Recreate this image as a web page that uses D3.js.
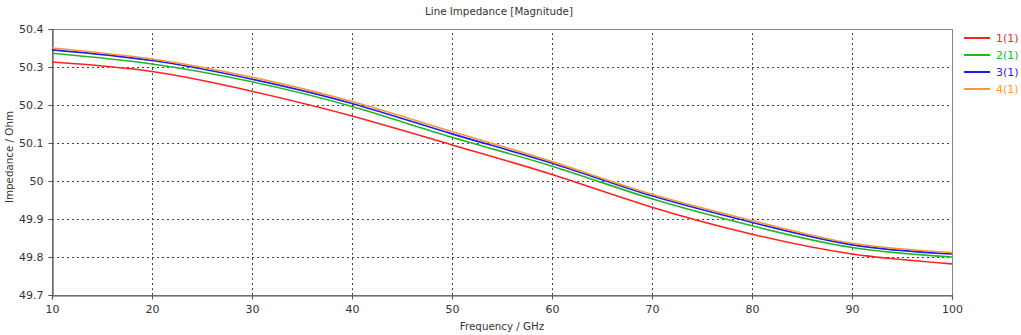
<!DOCTYPE html>
<html>
<head>
<meta charset="utf-8">
<script src="https://cdn.jsdelivr.net/npm/d3@7/dist/d3.min.js"></script>
<style>
  body { margin: 0; background: #fff; }
  text { font-family: "DejaVu Sans", Verdana, sans-serif; }
</style>
</head>
<body>
<div class="d3"></div>
<script>
// values
const freq = [10, 20, 30, 40, 50, 60, 70, 80, 90, 100];
const s1 = [50.313, 50.288, 50.236, 50.171, 50.095, 50.017, 49.931, 49.860, 49.808, 49.782];
const s2 = [50.336, 50.308, 50.261, 50.196, 50.115, 50.039, 49.953, 49.882, 49.825, 49.800];
const s3 = [50.345, 50.317, 50.268, 50.204, 50.124, 50.047, 49.961, 49.891, 49.832, 49.808];
const s4 = [50.350, 50.321, 50.273, 50.209, 50.130, 50.051, 49.965, 49.896, 49.836, 49.812];
const seriesNames = ["1(1)", "2(1)", "3(1)", "4(1)"];
const seriesColors = ["#ff2020", "#20b820", "#1c1cff", "#ff9433"];
const xTicks = [10, 20, 30, 40, 50, 60, 70, 80, 90, 100];
const yTicks = [49.7, 49.8, 49.9, 50, 50.1, 50.2, 50.3, 50.4];

function main() {
    const width = 1021, height = 335;
    const m = {left: 52, right: 69, top: 29, bottom: 40};
    const svg = d3.select(".d3").append("svg")
        .attr("width", width)
        .attr("height", height);

    const x = d3.scaleLinear().domain([10, 100]).range([m.left, width - m.right]);
    const y = d3.scaleLinear().domain([49.7, 50.4]).range([height - m.bottom, m.top]);

    // grid
    const grid = svg.append("g");
    grid.selectAll(".vg").data(xTicks.slice(1, -1)).enter().append("line")
        .attr("x1", d => Math.round(x(d)) + 0.5).attr("x2", d => Math.round(x(d)) + 0.5)
        .attr("y1", y(49.7)).attr("y2", y(50.4))
        .attr("stroke", "#444").attr("stroke-dasharray", "2,3");
    grid.selectAll(".hg").data(yTicks.slice(1, -1)).enter().append("line")
        .attr("y1", d => Math.round(y(d)) + 0.5).attr("y2", d => Math.round(y(d)) + 0.5)
        .attr("x1", x(10)).attr("x2", x(100))
        .attr("stroke", "#444").attr("stroke-dasharray", "2,3");

    // frame
    svg.append("rect")
        .attr("x", x(10) + 0.5).attr("y", y(50.4) + 0.5)
        .attr("width", x(100) - x(10)).attr("height", y(49.7) - y(50.4))
        .attr("fill", "none").attr("stroke", "#888");

    // axes
    const xAxis = svg.append("g")
        .attr("transform", "translate(0," + (y(49.7) + 0.5) + ")")
        .call(d3.axisBottom(x).tickValues(xTicks).tickSize(4).tickPadding(6).tickFormat(d3.format("d")));
    const yAxis = svg.append("g")
        .attr("transform", "translate(" + (x(10) + 0.5) + ",0)")
        .call(d3.axisLeft(y).tickValues(yTicks).tickSize(4).tickPadding(5).tickFormat(d => d3.format(".1f")(d).replace(/\.0$/, "")));
    [xAxis, yAxis].forEach(a => {
        a.select(".domain").attr("stroke", "#555").attr("stroke-width", 1.2);
        a.selectAll(".tick line").attr("stroke", "#555");
        a.selectAll(".tick text").attr("fill", "#333").style("font-size", "11px")
            .style("font-family", "'DejaVu Sans', Verdana, sans-serif");
    });

    // lines
    const allSeries = [s1, s2, s3, s4];
    const line = d3.line()
        .x((d, i) => x(freq[i]))
        .y(d => y(d))
        .curve(d3.curveNatural);
    svg.selectAll(".series").data(allSeries).enter().append("path")
        .attr("fill", "none")
        .attr("stroke", (d, i) => seriesColors[i])
        .attr("stroke-width", 1.6)
        .attr("d", line);

    // legend
    const lg = svg.selectAll(".lg").data(seriesNames).enter().append("g")
        .attr("transform", (d, i) => "translate(964," + (38 + i * 17) + ")");
    lg.append("line").attr("x1", 0).attr("x2", 26)
        .attr("stroke", (d, i) => seriesColors[i]).attr("stroke-width", 2);
    lg.append("text").attr("x", 32).attr("dy", "0.35em")
        .attr("fill", (d, i) => seriesColors[i])
        .style("font-size", "11px").text(d => d);

    // titles
    svg.append("text").attr("x", 499).attr("y", 15).attr("text-anchor", "middle")
        .attr("fill", "#333").style("font-size", "10.3px").text("Line Impedance [Magnitude]");
    svg.append("text").attr("x", 502).attr("y", 330).attr("text-anchor", "middle")
        .attr("fill", "#333").style("font-size", "10.3px").text("Frequency / GHz");
    svg.append("text").attr("transform", "translate(13,157) rotate(-90)").attr("text-anchor", "middle")
        .attr("fill", "#333").style("font-size", "10.3px").text("Impedance / Ohm");
}
main();
</script>
</body>
</html>
